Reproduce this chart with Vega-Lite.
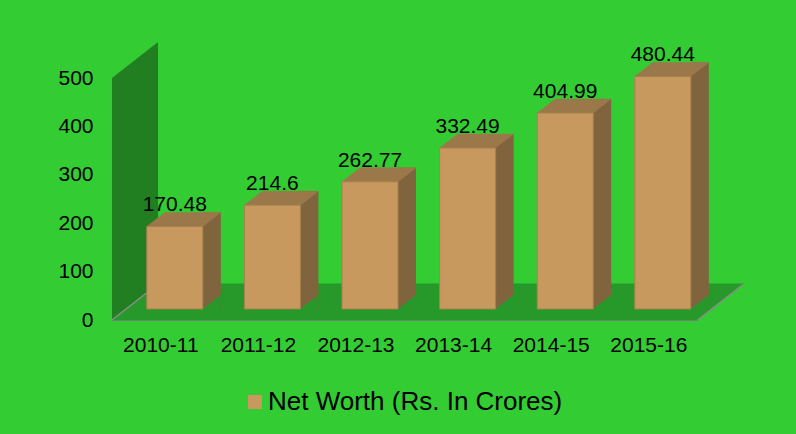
{
  "$schema": "https://vega.github.io/schema/vega-lite/v6.json",
  "autosize": {"type": "none"},
  "padding": {"left": 112, "top": 78, "right": 98.4, "bottom": 114},
  "width": 585.6,
  "height": 242,
  "background": "#33CC33",
  "config": {
    "font": "Liberation Sans",
    "view": {"stroke": null},
    "axis": {"zindex": 1}
  },
  "data": {
    "values": [
      {"year": "2010-11", "value": 170.48},
      {"year": "2011-12", "value": 214.6},
      {"year": "2012-13", "value": 262.77},
      {"year": "2013-14", "value": 332.49},
      {"year": "2014-15", "value": 404.99},
      {"year": "2015-16", "value": 480.44}
    ]
  },
  "encoding": {
    "x": {
      "field": "year",
      "type": "nominal",
      "sort": null,
      "scale": {"paddingInner": 0, "paddingOuter": 0},
      "axis": {
        "title": null,
        "labelAngle": 0,
        "labelFontSize": 21,
        "labelColor": "#000000",
        "labelPadding": 14,
        "ticks": false,
        "tickSize": 0,
        "domainColor": "#8C8C8C",
        "domainWidth": 1.5
      }
    }
  },
  "layer": [
    {
      "transform": [{"filter": "datum.year == '2010-11'"}],
      "mark": {
        "type": "point",
        "filled": true,
        "opacity": 1,
        "shape": "M-0.16547,-0.74101L-0.16547,1L0.16547,0.74101L0.16547,-1Z",
        "size": 77284,
        "color": "#217F21",
        "strokeWidth": 0,
        "xOffset": -25.8,
        "yOffset": -139
      },
      "encoding": {
        "y": {
          "datum": 0,
          "type": "quantitative",
          "scale": {"domain": [0, 500], "nice": false},
          "axis": {
            "title": null,
            "values": [0, 100, 200, 300, 400, 500],
            "labelFontSize": 21,
            "labelColor": "#000000",
            "labelPadding": 19,
            "ticks": false,
            "tickSize": 0,
            "grid": false,
            "domainColor": "#8C8C8C",
            "domainWidth": 1.5
          }
        }
      }
    },
    {
      "mark": {
        "type": "point",
        "filled": true,
        "opacity": 1,
        "shape": "M-1,0.2507L0.3593,0.2507L1,-0.2507L-0.3593,-0.2507Z",
        "size": 20621,
        "color": "#27992A",
        "stroke": "#27992A",
        "strokeWidth": 1,
        "xOffset": 23,
        "yOffset": -18
      },
      "encoding": {"y": {"datum": 0, "type": "quantitative"}}
    },
    {
      "transform": [{"filter": "datum.year == '2010-11'"}],
      "mark": {
        "type": "point",
        "filled": false,
        "opacity": 1,
        "shape": "M-1,0.2507L-0.3593,-0.2507",
        "size": 20621,
        "stroke": "#8C8C8C",
        "strokeWidth": 1.5,
        "xOffset": 23,
        "yOffset": -18
      },
      "encoding": {"y": {"datum": 0, "type": "quantitative"}}
    },
    {
      "transform": [{"filter": "datum.year == '2015-16'"}],
      "mark": {
        "type": "point",
        "filled": false,
        "opacity": 1,
        "shape": "M0.3593,0.2507L1,-0.2507",
        "size": 20621,
        "stroke": "#8C8C8C",
        "strokeWidth": 1.5,
        "xOffset": 23,
        "yOffset": -18
      },
      "encoding": {"y": {"datum": 0, "type": "quantitative"}}
    },
    {
      "mark": {
        "type": "bar",
        "width": 18,
        "color": "#80643E",
        "xOffset": 51,
        "yOffset": -25,
        "y2Offset": -11
      },
      "encoding": {
        "y": {"field": "value", "type": "quantitative"},
        "y2": {"datum": 0}
      }
    },
    {
      "mark": {
        "type": "point",
        "filled": true,
        "opacity": 1,
        "shape": "M-1,0.77778L1,0.77778L1,-0.77778Z",
        "size": 324,
        "color": "#27992A",
        "strokeWidth": 0,
        "xOffset": 51,
        "yOffset": -18
      },
      "encoding": {"y": {"datum": 0, "type": "quantitative"}}
    },
    {
      "mark": {
        "type": "point",
        "filled": true,
        "opacity": 1,
        "shape": "M-1,0.18919L0.51351,0.18919L1,-0.18919L-0.51351,-0.18919Z",
        "size": 5476,
        "color": "#9B784A",
        "stroke": "#9B784A",
        "strokeWidth": 0.5,
        "xOffset": 23,
        "yOffset": -18
      },
      "encoding": {"y": {"field": "value", "type": "quantitative"}}
    },
    {
      "mark": {
        "type": "bar",
        "width": 56,
        "stroke": "#A9804F",
        "strokeWidth": 1,
        "xOffset": 14,
        "yOffset": -11,
        "y2Offset": -11
      },
      "encoding": {
        "y": {"field": "value", "type": "quantitative"},
        "y2": {"datum": 0},
        "color": {
          "datum": "Net Worth (Rs. In Crores)",
          "type": "nominal",
          "scale": {"range": ["#C8995F"]},
          "legend": {
            "title": null,
            "orient": "none",
            "legendX": 130,
            "legendY": 311,
            "padding": 0,
            "symbolType": "square",
            "symbolSize": 196,
            "symbolStrokeWidth": 0,
            "symbolOpacity": 1,
            "labelFontSize": 26,
            "labelColor": "#000000",
            "labelOffset": 0,
            "labelLimit": 500
          }
        }
      }
    },
    {
      "mark": {
        "type": "text",
        "fontSize": 21,
        "color": "#000000",
        "align": "center",
        "baseline": "alphabetic",
        "xOffset": 14,
        "yOffset": -26
      },
      "encoding": {
        "y": {"field": "value", "type": "quantitative"},
        "text": {"field": "value", "type": "quantitative"}
      }
    }
  ]
}
